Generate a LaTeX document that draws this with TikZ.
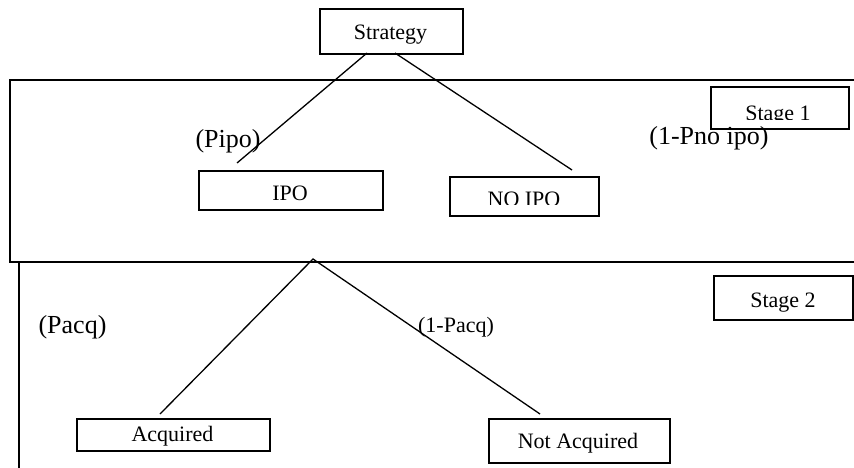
\documentclass[tikz,border=0pt]{standalone}
\usepackage{fontspec}
\setmainfont{Liberation Serif}
\usetikzlibrary{calc}
\begin{document}
\begin{tikzpicture}[x=1pt,y=-1pt,
  box/.style={draw,line width=1.6pt,inner sep=0pt,anchor=north west},
  lbl/.style={inner sep=0pt,anchor=base,font=\fontsize{22}{26}\selectfont},
  prob/.style={inner sep=0pt,anchor=base,font=\fontsize{26}{30}\selectfont},
  branch/.style={line width=1.3pt},
  frame/.style={line width=1.8pt}]
\useasboundingbox (0,0) rectangle (854,468);
% stage frames
\draw[frame] (854,80) -- (10,80) -- (10,262) -- (854,262);
\draw[frame] (19,263) -- (19,468);
% boxes
\node[box,minimum width=143pt,minimum height=45pt] (strat) at (319,8) {};
\node[box,minimum width=184pt,minimum height=39pt] (ipo) at (198,170) {};
\node[box,minimum width=149pt,minimum height=39pt] (noipo) at (449,176) {};
\node[box,minimum width=138pt,minimum height=42pt] (stage1) at (710,86) {};
\node[box,minimum width=139pt,minimum height=44pt] (stage2) at (713,275) {};
\node[box,minimum width=193pt,minimum height=32pt] (acq) at (76,418) {};
\node[box,minimum width=181pt,minimum height=44pt] (nacq) at (488,418) {};
% texts
\node[lbl] (tstrat) at (390.5,40) {Strategy};
\node[lbl] (tipo) at (290,200) {IPO};
\begin{scope}
\clip (449,176) rectangle (598,204);
\node[lbl] (tnoipo) at (524,206) {NO IPO};
\end{scope}
\begin{scope}
\clip (710,86) rectangle (848,120);
\node[lbl] (tstage1) at (778,121) {Stage 1};
\end{scope}
\node[lbl] (tstage2) at (783,307) {Stage 2};
\node[lbl] (tacq) at (172.5,441) {Acquired};
\node[lbl] (tnacq) at (578,448) {Not Acquired};
% probabilities
\node[prob] (ppipo) at (228,147) {(Pipo)};
\node[prob] (pnoipo) at (709,145) {(1-Pno ipo)};
\node[prob] (pacq) at (72.5,333) {(Pacq)};
\node[lbl] (pnacq) at (456,332) {(1-Pacq)};
% branch coordinates
\coordinate (sL) at (367,53);
\coordinate (sR) at (395,53);
\coordinate (eIpo) at (237,163);
\coordinate (eNo) at (572,170);
\coordinate (apex) at (313,259);
\coordinate (eAcq) at (160,414);
\coordinate (eNacq) at (540,414);
\draw[branch] (sL) -- (eIpo);
\draw[branch] (sR) -- (eNo);
\draw[branch] (eAcq) -- (apex) -- (eNacq);
\end{tikzpicture}
\end{document}
